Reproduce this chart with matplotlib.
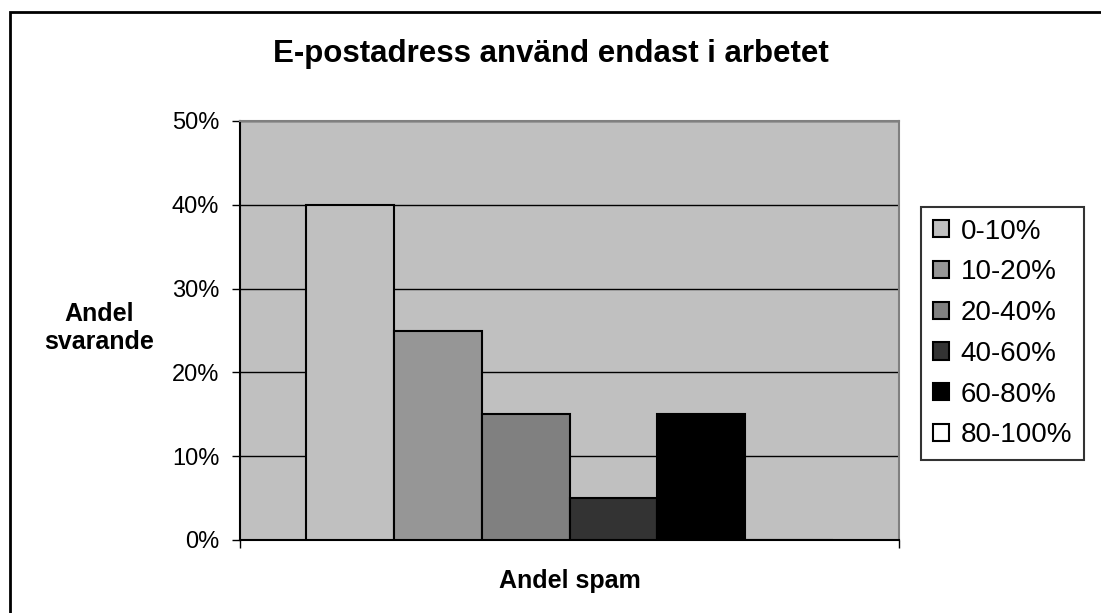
import matplotlib.pyplot as plt
from matplotlib.patches import Rectangle
from matplotlib.ticker import PercentFormatter

plt.rcParams['font.family'] = ['Liberation Sans', 'DejaVu Sans']

# data
series = ['0-10%', '10-20%', '20-40%', '40-60%', '60-80%', '80-100%']
values = [40, 25, 15, 5, 15, 0]
colors = ['#C0C0C0', '#969696', '#808080', '#333333', '#000000', '#FFFFFF']
yticks = [0, 10, 20, 30, 40, 50]

W, H = 1101, 613
fig = plt.figure(figsize=(W / 100, H / 100), dpi=100)

# outer chart border (left and top visible)
fig.patches.append(Rectangle((10 / W, -0.1), 1.2, 1 - 12 / H + 0.1,
                             transform=fig.transFigure, fill=False,
                             edgecolor='black', linewidth=2))

ax = fig.add_axes([240 / W, 1 - 540 / H, (899 - 240) / W, (540 - 121) / H])
ax.set_facecolor('#C0C0C0')

# one category, excel-style clustered bars with gap width 150%
n = len(series)
w = 1 / (n + 1.5)
start = -0.5 + 0.75 * w
for i in range(n):
    ax.bar(start + i * w, values[i], width=w, align='edge', color=colors[i],
           edgecolor='black', linewidth=1.5, label=series[i], zorder=3)

ax.set_xlim(-0.5, 0.5)
ax.set_ylim(0, 50)
ax.set_yticks(yticks)
ax.yaxis.set_major_formatter(PercentFormatter(decimals=0))
ax.yaxis.grid(True, color='black', linewidth=1, zorder=0)
ax.set_axisbelow(True)
ax.set_xticks([-0.5, 0.5])
ax.set_xticklabels([])
ax.tick_params(axis='y', direction='out', length=6, width=1, labelsize=17, pad=9)
ax.tick_params(axis='x', direction='out', length=6, width=1)
ax.spines['left'].set_color('black')
ax.spines['bottom'].set_color('black')
ax.spines['top'].set_color('#808080')
ax.spines['right'].set_color('#808080')
for s in ax.spines.values():
    s.set_linewidth(1.5)

fig.text(551 / W, 1 - 62 / H, 'E-postadress använd endast i arbetet',
         ha='center', va='baseline', fontsize=22.5, fontweight='bold')
fig.text(99 / W, 1 - 328 / H, 'Andel\nsvarande', ha='center', va='center',
         fontsize=18, fontweight='bold', linespacing=1.2)
fig.text(570 / W, 1 - 588 / H, 'Andel spam', ha='center', va='baseline',
         fontsize=18, fontweight='bold')

leg = ax.legend(loc='upper left', bbox_to_anchor=(921 / W, 1 - 207 / H),
                bbox_transform=fig.transFigure, fancybox=False, frameon=True,
                edgecolor='black', fontsize=20, handlelength=0.58,
                handleheight=0.58, handletextpad=0.43, labelspacing=0.53,
                borderpad=0.42, borderaxespad=0)
leg.get_frame().set_linewidth(1.5)

fig.savefig('out.png', dpi=100)
